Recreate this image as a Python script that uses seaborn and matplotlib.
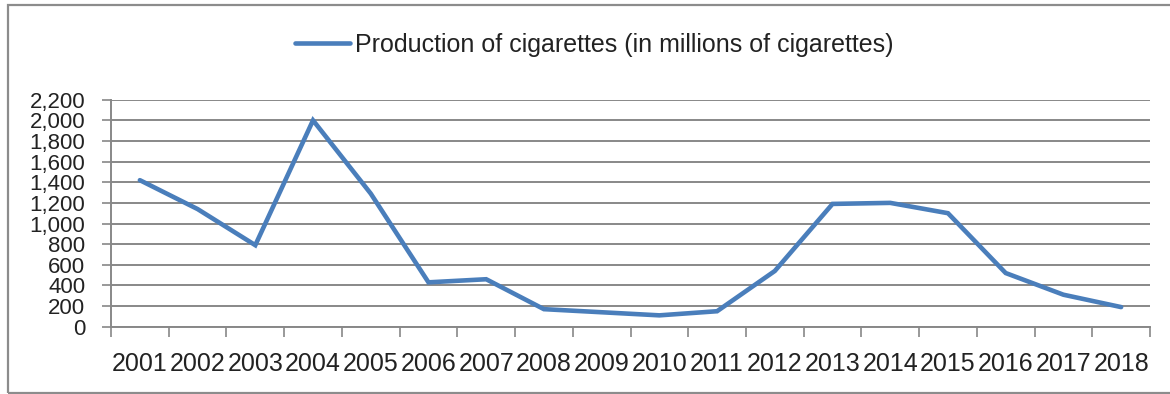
import matplotlib
matplotlib.use("Agg")
import matplotlib.pyplot as plt
import matplotlib.ticker as mticker
from matplotlib import font_manager
from matplotlib.patches import Rectangle
import seaborn as sns
import pandas as pd

years = list(range(2001, 2019))
production = [1420, 1140, 790, 2000, 1290, 430, 460, 170, 140, 110,
              150, 540, 1190, 1200, 1100, 520, 310, 190]
series_label = "Production of cigarettes (in millions of cigarettes)"
y_ticks = list(range(0, 2201, 200))

df = pd.DataFrame({"year": years, "value": production})

sns.set_theme(style="white")
installed = {f.name for f in font_manager.fontManager.ttflist}
family = [f for f in ["Liberation Sans Narrow", "Liberation Sans", "DejaVu Sans"] if f in installed]
plt.rcParams["font.family"] = family

W, H, DPI = 1170, 394, 100
fig = plt.figure(figsize=(W / DPI, H / DPI), dpi=DPI)
fig.patch.set_facecolor("white")
ax = fig.add_axes([111 / W, 1 - 326.7 / H, (1150 - 111) / W, (326.7 - 99.7) / H])

grid_c = "#888888"
line_c = "#4A7EBB"
text_c = "#222222"

sns.lineplot(data=df, x="year", y="value", ax=ax, color=line_c, linewidth=3.3,
             label=series_label, solid_capstyle="round", solid_joinstyle="miter")

ax.set_xlim(years[0] - 0.5, years[-1] + 0.5)
ax.set_ylim(0, 2200)
ax.set_xlabel("")
ax.set_ylabel("")

# horizontal gridlines
ax.set_yticks(y_ticks)
ax.yaxis.set_major_formatter(mticker.FuncFormatter(lambda v, p: f"{int(v):,}"))
ax.grid(axis="y", color=grid_c, linewidth=1.4)
ax.grid(axis="x", visible=False)
ax.set_axisbelow(True)

# category boundaries carry tick marks, centers carry labels
ax.set_xticks([y - 0.5 for y in years] + [years[-1] + 0.5])
ax.set_xticklabels([])
ax.set_xticks(years, minor=True)
ax.set_xticklabels([str(y) for y in years], minor=True)
ax.tick_params(axis="x", which="major", direction="out", length=7, width=1.2,
               color=grid_c, bottom=True)
ax.tick_params(axis="x", which="minor", length=0, pad=18, labelsize=18, labelcolor=text_c)
ax.tick_params(axis="y", direction="out", length=6.5, width=1.2, color=grid_c,
               left=True, pad=12, labelsize=16, labelcolor=text_c)

for side in ["top", "right"]:
    ax.spines[side].set_visible(False)
for side in ["left", "bottom"]:
    ax.spines[side].set_color(grid_c)
    ax.spines[side].set_linewidth(1.4)

leg = ax.legend(loc="center", bbox_to_anchor=(594 / W, 1 - 45 / H),
                bbox_transform=fig.transFigure, frameon=False, fontsize=18,
                handlelength=2.2, handletextpad=0.2, borderpad=0)
for t in leg.get_texts():
    t.set_color(text_c)

# outer chart frame
fig.patches.append(Rectangle((8 / W, 1 / H), 1.2, (393 - 5) / H, transform=fig.transFigure,
                             fill=False, edgecolor="#8C8C8C", linewidth=1.6))

fig.savefig("out.png", dpi=DPI, facecolor="white")
